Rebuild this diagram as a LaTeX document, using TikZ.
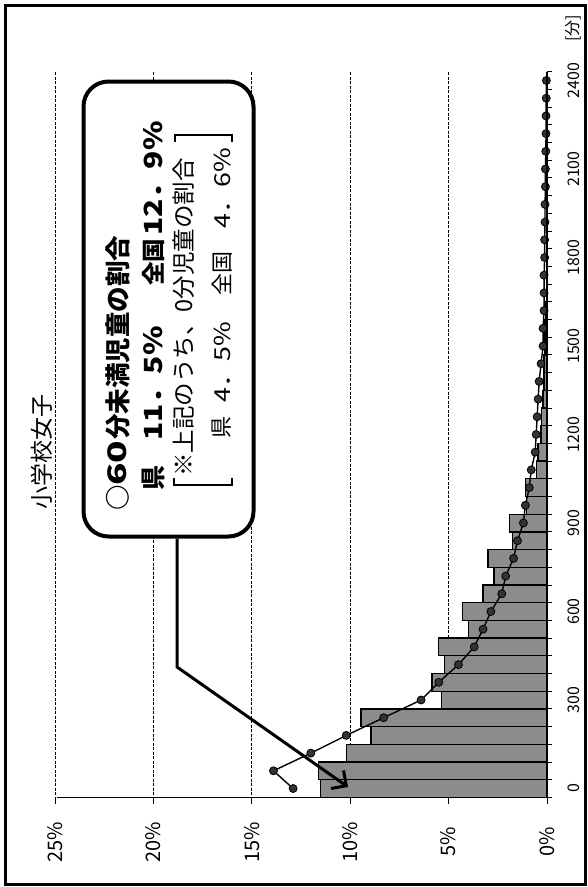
\documentclass[tikz,border=0pt]{standalone}
\usepackage{fontspec}
\setmainfont{Noto Sans CJK JP}
\usetikzlibrary{arrows.meta}
\tikzset{
  frame/.style={line width=3pt},
  grid/.style={dashed, dash pattern=on 3pt off 1.5pt, line width=0.9pt},
  axisline/.style={line width=1.2pt},
  bar/.style={fill=black!45, draw=black, line width=1.3pt},
  series/.style={line width=1.4pt, mark=*, mark size=4pt, mark options={fill=black!80, draw=black, line width=0.8pt, solid}},
  rtext/.style={rotate=90, inner sep=0pt},
  lab/.style={rtext, font=\fontsize{20}{20}\selectfont},
  tlab/.style={rtext, font=\fontsize{16}{16}\selectfont},
  callout/.style={draw, line width=4pt, rounded corners=25pt, fill=white, inner sep=0pt},
  pointer/.style={line width=3pt, -{Straight Barb[length=11pt, width=22pt, line width=3pt]}},
  brack/.style={line width=1.4pt},
  big/.style={rtext, anchor=west, font=\bfseries\fontsize{25}{25}\selectfont},
  small/.style={rtext, anchor=west, font=\fontsize{22}{22}\selectfont},
}
\begin{document}
\begin{tikzpicture}[x=1pt, y=-1pt]
\useasboundingbox (0,0) rectangle (588,887);
\fill[white] (0,0) rectangle (588,887);
\draw[frame] (5,5) rectangle (585,884);

% gridlines
\foreach \p in {5,10,15,20,25} {
  \draw[grid] ({547-19.68*\p},72) -- ({547-19.68*\p},797.35);
}

% chart data in value/category coordinates
\begin{scope}[shift={(547,788.5)}, x=-19.68pt, y=17.7pt]
  \foreach \v [count=\i from 0] in {11.5,11.6,10.2,8.95,9.45,5.35,5.85,5.2,5.5,4.0,4.3,3.25,2.7,3.0,1.75,1.9,1.05,1.1,0.55,0.45,0.3,0.27,0.2,0.15,0.15,0.1,0.1,0.08} {
    \draw[bar] (\v,\i-0.5) rectangle (0,\i+0.5);
  }
  \draw[series] plot coordinates {(12.9,0) (13.9,1) (12.0,2) (10.2,3) (8.3,4) (6.4,5) (5.5,6) (4.5,7) (3.7,8) (3.25,9) (2.85,10) (2.3,11) (2.1,12) (1.7,13) (1.5,14) (1.2,15) (1.1,16) (0.9,17) (0.8,18) (0.6,19) (0.55,20) (0.5,21) (0.45,22) (0.4,23) (0.3,24) (0.2,25) (0.2,26) (0.15,27) (0.15,28) (0.15,29) (0.12,30) (0.12,31) (0.1,32) (0.1,33) (0.08,34) (0.08,35) (0.06,36) (0.05,37) (0.05,38) (0.04,39) (0.03,40)};
\end{scope}

% axes
\draw[axisline] (547,72) -- (547,797.35);
\foreach \k in {0,...,41} { \draw[line width=0.8pt] (547,{797.35-17.7*\k}) -- (552,{797.35-17.7*\k}); }
\draw[axisline] (57,797.35) -- (547,797.35);
\foreach \p in {0,5,10,15,20,25} { \draw[line width=0.8pt] ({547-19.68*\p},797.35) -- ({547-19.68*\p},804); }

% value labels
\node[lab] (v0) at (547,842) {0\%};
\node[lab] (v5) at (448.6,842) {5\%};
\node[lab] (v10) at (350.2,842) {10\%};
\node[lab] (v15) at (251.8,842) {15\%};
\node[lab] (v20) at (153.4,842) {20\%};
\node[lab] (v25) at (55,842) {25\%};

% category labels
\foreach \t [count=\j from 0] in {0,300,600,900,1200,1500,1800,2100,2400} {
  \node[tlab] (c\j) at (574,{788.5-88.5*\j}) {\t};
}
\node[tlab] (unit) at (573,28) {[分]};

% title
\node[rtext, font=\fontsize{23}{23}\selectfont] (title) at (42,452) {小学校女子};

% callout box
\node[callout, minimum width=170pt, minimum height=455pt] (box) at (168.5,309) {};
\node[big, font=\bfseries\fontsize{25.5}{25.5}\selectfont] (l1a) at (117.5,511) {○};
\node[big, font=\bfseries\fontsize{25.5}{25.5}\selectfont, xscale=1.45] (l1b) at (117.5,486) {60};
\node[big, font=\bfseries\fontsize{25.5}{25.5}\selectfont] (l1c) at (117.5,440) {分未満児童の割合};
\node[big] (l2a) at (153,491) {県};
\node[big, xscale=1.2] (l2b) at (153,441) {11．5\%};
\node[big, font=\bfseries\fontsize{23.5}{23.5}\selectfont] (l2c) at (153,286) {全国};
\node[big, xscale=1.2] (l2d) at (153,236) {12．9\%};
\node[small, font=\fontsize{23.5}{23.5}\selectfont] (l3) at (184,477) {※上記のうち、0分児童の割合};
\node[small] (l4a) at (222,439) {県};
\node[small, xscale=1.22] (l4b) at (222,403) {4．5\%};
\node[small] (l4c) at (222,296) {全国};
\node[small, xscale=1.22] (l4d) at (222,229) {4．6\%};
\draw[brack] (174,478) -- (174,485) -- (232,485) -- (232,478);
\draw[brack] (175,142) -- (175,135) -- (232,135) -- (232,142);

% pointer
\coordinate (bend) at (177,667);
\coordinate (tip) at (348,787);
\draw[pointer] (box.south -| bend) -- (bend) -- (tip);
\end{tikzpicture}
\end{document}
